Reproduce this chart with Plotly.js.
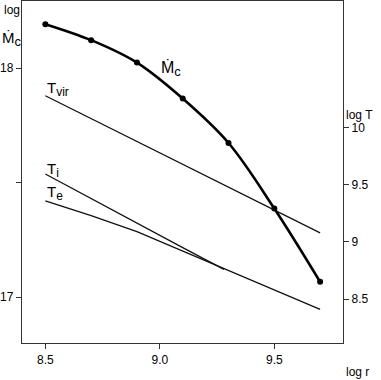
<!DOCTYPE html>
<html><head><meta charset="utf-8">
<script src="https://cdn.plot.ly/plotly-3.0.1.min.js"></script>
<style>body{margin:0;padding:0;}#c{width:381px;height:380px;}</style>
</head><body><div id="c"></div>
<script>
const logR = [8.5, 8.7, 8.9, 9.1, 9.3, 9.5, 9.7];
const logMdot = [18.192, 18.122, 18.024, 17.867, 17.673, 17.387, 17.067];
const logTvir = [10.28, 10.08, 9.88, 9.68, 9.48, 9.28, 9.08];
const logRi = [8.5, 8.7, 8.9, 9.1, 9.28];
const logTi = [9.595, 9.38, 9.16, 8.95, 8.76];
const logTe = [9.36, 9.23, 9.09, 8.92, 8.75, 8.58, 8.41];

const F = 'Liberation Sans, Arial, sans-serif';
const thin = {color:'#111', width:1.3};
const traces = [
  {x: logR, y: logMdot, mode:'lines+markers', line:{color:'#000', width:2.6, shape:'spline'},
   marker:{color:'#000', size:6}, yaxis:'y', hoverinfo:'none'},
  {x: logR, y: logTvir, mode:'lines', line:thin, yaxis:'y2'},
  {x: logRi, y: logTi, mode:'lines', line:thin, yaxis:'y2'},
  {x: logR, y: logTe, mode:'lines', line:thin, yaxis:'y2'}
];
function lab(main, sub, subSize){
  return main + '<sub><span style="font-size:' + subSize + 'px">' + sub + '</span></sub>';
}
const axCol = '#333';
const layout = {
  width:381, height:380, showlegend:false,
  margin:{l:22, r:38, t:1, b:37},
  paper_bgcolor:'#fff', plot_bgcolor:'#fff',
  font:{family:F, size:12, color:'#000'},
  xaxis:{range:[8.398, 9.80], tickvals:[8.5,9.0,9.5], ticktext:['8.5','9.0','9.5'],
    showgrid:false, zeroline:false, showline:true, mirror:true, linecolor:axCol, linewidth:1.2,
    ticks:'outside', ticklen:5, tickcolor:axCol, tickfont:{family:F,size:12}},
  yaxis:{range:[16.80, 18.293], tickvals:[17,17.5,18], ticktext:['17','','18'],
    showgrid:false, zeroline:false, showline:true, mirror:false, linecolor:axCol, linewidth:1.2,
    ticks:'outside', ticklen:5, tickcolor:axCol, tickfont:{family:F,size:12}},
  yaxis2:{range:[8.115, 11.11], overlaying:'y', side:'right', tickvals:[8.5,9,9.5,10],
    ticktext:['8.5','9','9.5','10'],
    showgrid:false, zeroline:false, showline:true, linecolor:axCol, linewidth:1.2,
    ticks:'outside', ticklen:5, tickcolor:axCol, tickfont:{family:F,size:12}},
  annotations:[
    {xref:'x', yref:'y', x:9.05, y:18.0, text:lab('Ṁ','c',13), showarrow:false, font:{size:16}, xanchor:'center', yanchor:'middle'},
    {xref:'x', yref:'y2', x:8.5, y:10.34, text:lab('T','vir',12), showarrow:false, font:{size:15}, xanchor:'left', yanchor:'middle'},
    {xref:'x', yref:'y2', x:8.5, y:9.63, text:lab('T','i',12), showarrow:false, font:{size:15}, xanchor:'left', yanchor:'middle'},
    {xref:'x', yref:'y2', x:8.5, y:9.43, text:lab('T','e',12), showarrow:false, font:{size:15}, xanchor:'left', yanchor:'middle'},
    {xref:'paper', yref:'paper', x:1.046, y:-0.085, text:'log r', showarrow:false, font:{size:12}, xanchor:'center', yanchor:'middle'},
    {xref:'paper', yref:'paper', x:1.052, y:0.667, text:'log T', showarrow:false, font:{size:12}, xanchor:'center', yanchor:'middle'},
    {xref:'paper', yref:'paper', x:-0.031, y:0.974, text:'log', showarrow:false, font:{size:12}, xanchor:'center', yanchor:'middle'},
    {xref:'paper', yref:'paper', x:-0.031, y:0.89, text:lab('Ṁ','c',13), showarrow:false, font:{size:15}, xanchor:'center', yanchor:'middle'}
  ]
};
Plotly.newPlot('c', traces, layout, {staticPlot:true, displayModeBar:false});
</script></body></html>
